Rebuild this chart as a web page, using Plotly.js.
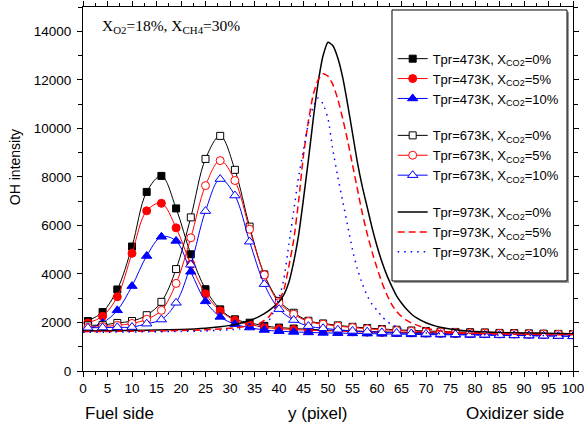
<!DOCTYPE html>
<html>
<head>
<meta charset="utf-8">
<script src="https://cdn.plot.ly/plotly-3.0.1.min.js"></script>
<style>html,body{margin:0;padding:0;background:#fff;}#chart{width:584px;height:428px;}</style>
</head>
<body>
<div id="chart"></div>
<script>
// Marker series positions (pixel)
const xMark = [1,4,7,10,13,16,19,22,25,28,31,34,37,40,43,46,49,52,55,58,61,64,67,70,73,76,79,82,85,88,91,94,97,100];

const t473_0  = [2060,2430,3360,5130,7380,8040,6700,4810,3370,2540,2130,1990,1860,1790,1750,1720,1690,1670,1650,1630,1610,1600,1590,1580,1570,1560,1555,1550,1545,1540,1530,1525,1515,1505];
const t473_5  = [1980,2260,3060,4850,6600,6910,5900,4400,3180,2480,2090,1920,1800,1740,1710,1680,1660,1640,1620,1600,1590,1580,1570,1560,1550,1540,1535,1530,1525,1520,1510,1505,1500,1490];
const t473_10 = [1750,1980,2500,3500,4740,5530,5360,4090,2870,2230,1930,1790,1690,1640,1610,1590,1570,1560,1550,1540,1530,1520,1510,1500,1495,1490,1485,1480,1470,1465,1455,1450,1440,1430];

const t673_0  = [1880,1900,1980,2060,2300,2850,4200,6330,8740,9690,8290,5950,3980,2890,2400,2070,1960,1880,1820,1770,1730,1700,1670,1650,1630,1610,1600,1590,1570,1560,1550,1540,1530,1520];
const t673_5  = [1800,1830,1880,1960,2130,2500,3610,5490,7640,8670,7850,5840,3960,2810,2340,2040,1930,1850,1790,1740,1700,1670,1640,1620,1600,1585,1570,1560,1550,1540,1530,1520,1510,1500];
const t673_10 = [1780,1790,1800,1810,1950,2120,2810,4380,6590,7910,7230,5330,3580,2550,2100,1850,1760,1700,1650,1620,1590,1570,1550,1530,1520,1510,1500,1490,1480,1470,1460,1450,1440,1430];

// Continuous 973K curves
const xLine = [0,5,10,15,20,25,28,30,32,34,36,38,40,41,42,43,44,45,46,47,48,49,50,51,52,53,54,55,56,57,58,59,60,61,62,63,64,65,66,67,68,70,72,74,76,78,80,85,90,95,100];
const t973_0  = [1650,1660,1670,1690,1710,1760,1820,1880,1960,2080,2250,2500,2850,3150,3650,4500,5600,7100,8700,10400,11900,13000,13550,13400,12900,12100,11000,9800,8600,7600,6750,5900,5150,4500,3950,3500,3100,2800,2550,2350,2200,1990,1850,1760,1700,1660,1630,1590,1570,1555,1540];
const t973_5  = [1620,1630,1640,1650,1670,1700,1730,1760,1800,1860,1960,2250,2900,3350,4300,5400,7000,8900,10300,11400,12000,12250,12150,11800,11200,10400,9500,8500,7500,6500,5650,4900,4250,3650,3150,2750,2450,2250,2100,1980,1900,1760,1680,1620,1580,1560,1545,1525,1510,1500,1490];
const t973_10 = [1600,1600,1610,1620,1630,1650,1680,1700,1730,1780,1850,2100,3000,3800,5200,6600,8000,9100,10200,10900,11250,11000,10400,9100,8000,7000,6000,5000,4200,3600,3100,2750,2500,2250,2050,1920,1820,1750,1690,1640,1610,1570,1550,1530,1515,1505,1500,1485,1470,1460,1450];

const xTicks = [0,5,10,15,20,25,30,35,40,45,50,55,60,65,70,75,80,85,90,95,100];
const yTicks = [0,2000,4000,6000,8000,10000,12000,14000];

const names = [
  'Tpr=473K, X<sub>CO2</sub>=0%','Tpr=473K, X<sub>CO2</sub>=5%','Tpr=473K, X<sub>CO2</sub>=10%',
  'Tpr=673K, X<sub>CO2</sub>=0%','Tpr=673K, X<sub>CO2</sub>=5%','Tpr=673K, X<sub>CO2</sub>=10%',
  'Tpr=973K, X<sub>CO2</sub>=0%','Tpr=973K, X<sub>CO2</sub>=5%','Tpr=973K, X<sub>CO2</sub>=10%'
];

const BLACK='#000000', RED='#ff0000', BLUE='#0000ff';

function mk(y, name, color, symbol, size, open, group){
  return {x:xMark, y:y, name:name, type:'scatter', mode:'lines+markers', legendgroup:group,
    line:{color:color, width:1, shape:'spline', smoothing:1},
    marker:{symbol:symbol, size:size, color:open?'#ffffff':color, line:{color:color, width:1}}};
}
function ln(y, name, color, dash, group){
  return {x:xLine, y:y, name:name, type:'scatter', mode:'lines', legendgroup:group,
    line:{color:color, width:1.5, dash:dash, shape:'spline', smoothing:0.6}};
}

const data = [
  mk(t473_0, names[0], BLACK, 'square', 7, false, 'a'),
  mk(t473_5, names[1], RED, 'circle', 8, false, 'a'),
  mk(t473_10, names[2], BLUE, 'triangle-up', 9, false, 'a'),
  mk(t673_0, names[3], BLACK, 'square', 7, true, 'b'),
  mk(t673_5, names[4], RED, 'circle', 8, true, 'b'),
  mk(t673_10, names[5], BLUE, 'triangle-up', 9, true, 'b'),
  ln(t973_0, names[6], BLACK, 'solid', 'c'),
  ln(t973_5, names[7], RED, '7px,4px', 'c'),
  ln(t973_10, names[8], BLUE, '1.5px,5px', 'c')
];

const FONT = 'Arial, "Liberation Sans", sans-serif';
const layout = {
  width:584, height:428,
  margin:{l:83, r:11, t:7, b:57},
  paper_bgcolor:'#ffffff', plot_bgcolor:'#ffffff',
  font:{family:FONT, size:13.5, color:'#000'},
  showlegend:true,
  xaxis:{range:[-0.001,100.001], tickmode:'array', tickvals:xTicks, ticktext:xTicks.map(String),
    ticks:'outside', ticklen:5, tickwidth:1, tickcolor:'#000', ticklabeloverflow:'allow',
    minor:{dtick:2.5, tick0:0, ticks:'outside', ticklen:3, tickcolor:'#000'},
    showline:true, linecolor:'#000', linewidth:1, mirror:'ticks', showgrid:false, zeroline:false,
    tickfont:{family:FONT, size:13.5}},
  yaxis:{range:[0,15000], tickmode:'array', tickvals:yTicks, ticktext:yTicks.map(String),
    ticks:'outside', ticklen:5, tickwidth:1, tickcolor:'#000', ticklabeloverflow:'allow',
    minor:{dtick:1000, tick0:0, ticks:'outside', ticklen:4, tickcolor:'#000'},
    showline:true, linecolor:'#000', linewidth:1, mirror:'ticks', showgrid:false, zeroline:false,
    tickfont:{family:FONT, size:13.5}, ticklabelstandoff:3},
  legend:{x:0.632, y:0.992, xanchor:'left', yanchor:'top', bgcolor:'rgba(0,0,0,0)', bordercolor:'#000', borderwidth:0,
    font:{family:FONT, size:13}, tracegroupgap:17, itemwidth:30, traceorder:'grouped',
    title:{text:'&nbsp;<br>&nbsp;', font:{size:13}}},
  shapes:[
    {type:'rect', xref:'paper', yref:'paper', layer:'above', x0:0.6347, x1:0.9918, y0:0.2418, y1:0.9863,
     fillcolor:'#9a9a9a', line:{width:0}},
    {type:'rect', xref:'paper', yref:'paper', layer:'above', x0:0.6306, x1:0.9878, y0:0.2473, y1:0.9918,
     fillcolor:'#ffffff', line:{color:'#000', width:1}}
  ],
  annotations:[
    {xref:'paper', yref:'paper', x:0.035, y:0.946, xanchor:'left', yanchor:'middle', showarrow:false,
     text:'X<sub>O2</sub>=18%, X<sub>CH4</sub>=30%', font:{family:'"Times New Roman", "Liberation Serif", serif', size:15.5}},
    {xref:'paper', yref:'paper', x:0, y:0, xshift:0, yshift:-42, xanchor:'left', yanchor:'middle', showarrow:false,
     text:'Fuel side', font:{family:FONT, size:17}},
    {xref:'paper', yref:'paper', x:1, y:0, xshift:-7, yshift:-42, xanchor:'right', yanchor:'middle', showarrow:false,
     text:'Oxidizer side', font:{family:FONT, size:17}},
    {xref:'paper', yref:'paper', x:0.48, y:0, yshift:-42, xanchor:'center', yanchor:'middle', showarrow:false,
     text:'y (pixel)', font:{family:FONT, size:17}},
    {xref:'paper', yref:'paper', x:0, xshift:-68, y:0.56, xanchor:'center', yanchor:'middle', showarrow:false, textangle:-90,
     text:'OH intensity', font:{family:FONT, size:14}}
  ]
};

Plotly.newPlot('chart', data, layout, {displayModeBar:false, staticPlot:true});
</script>
</body>
</html>
